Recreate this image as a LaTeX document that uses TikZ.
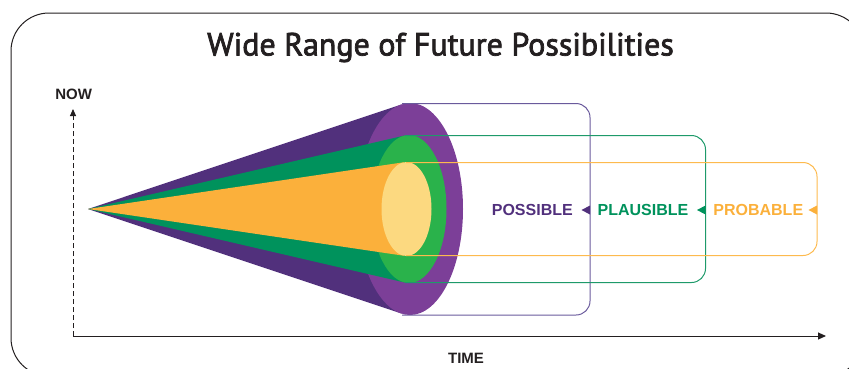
\documentclass[tikz,border=0pt]{standalone}
\usepackage{fontspec}
\setmainfont{Liberation Sans}
\newfontfamily\titlefont{PT Sans}
\usetikzlibrary{arrows.meta}
\definecolor{pdark}{HTML}{51307C}
\definecolor{plight}{HTML}{7C3F98}
\definecolor{gdark}{HTML}{00925C}
\definecolor{glight}{HTML}{2AB24B}
\definecolor{ydark}{HTML}{FBB03B}
\definecolor{ylight}{HTML}{FCD980}
\definecolor{pline}{HTML}{6A5A9C}
\definecolor{gline}{HTML}{1E9A6A}
\definecolor{yline}{HTML}{FDBA4E}
\definecolor{ink}{HTML}{231F20}
\newcommand\mythicktext[1]{\special{pdf:literal direct 2 Tr 0.75 w}#1\special{pdf:literal direct 0 Tr}}
\tikzset{
  lbl/.style={font=\bfseries\fontsize{16}{18}\selectfont, inner sep=0pt},
  axlbl/.style={font=\bfseries\fontsize{15}{17}\selectfont, inner sep=0pt, text=ink},
  rangebox/.style={line width=1pt, rounded corners=14pt},
}
\begin{document}
\begin{tikzpicture}[x=1pt,y=-1pt]
\useasboundingbox (0,0) rectangle (849,368);
\begin{scope}
\clip (0,0) rectangle (849,368);
\draw[ink, line width=1pt, rounded corners=38pt] (11,13) rectangle (864,376);
\end{scope}
\node[font=\titlefont\fontsize{32}{34}\selectfont, text=ink, inner sep=0pt] (title) at (440.5,47.5) {\mythicktext{Wide Range of Future Possibilities}};
% axes
\coordinate (origin) at (73,336);
\coordinate (nowtip) at (73,109);
\coordinate (timetip) at (826,336);
\draw[ink, line width=0.9pt, dash pattern=on 5pt off 3pt, -{Triangle[width=6pt,length=7pt]}] (origin) -- (nowtip);
\draw[ink, line width=1pt, -{Triangle[width=7pt,length=8pt]}] (origin) -- (timetip);
\node[axlbl] (now) at (73.7,94) {NOW};
\node[axlbl] (time) at (466,358) {TIME};
% cones
\coordinate (apex) at (88,209);
\fill[pdark] (apex) -- (401.6,104.4) -- (410,209) -- (401.6,313.6) -- cycle;
\fill[plight] (410,209) ellipse [x radius=53, y radius=106];
\fill[gdark] (apex) -- (404.7,135.5) -- (409,209) -- (404.7,282.5) -- cycle;
\fill[glight] (409,209) ellipse [x radius=37.5, y radius=74];
\fill[ydark] (apex) -- (404.2,162.2) -- (406.5,209) -- (404.2,255.8) -- cycle;
\fill[ylight] (406.5,209) ellipse [x radius=25, y radius=47];
% boxes
\draw[rangebox, pline] (402,103.5) -- (590,103.5) -- (590,315) -- (402,315);
\draw[rangebox, gline] (405,135.5) -- (705.5,135.5) -- (705.5,282.5) -- (405,282.5);
\draw[rangebox, yline] (406,162.5) -- (817,162.5) -- (817,255.5) -- (406,255.5);
% labels
\node[lbl, text=pdark] (possible) at (532.3,210) {POSSIBLE};
\node[lbl, text=gdark] (plausible) at (643,210) {PLAUSIBLE};
\node[lbl, text=ydark] (probable) at (758.3,210) {PROBABLE};
\fill[pdark] (590,205.5) -- (581.5,210) -- (590,214.5) -- cycle;
\fill[gdark] (705.5,205.5) -- (697,210) -- (705.5,214.5) -- cycle;
\fill[ydark] (817,205.5) -- (808.5,210) -- (817,214.5) -- cycle;
\end{tikzpicture}
\end{document}
